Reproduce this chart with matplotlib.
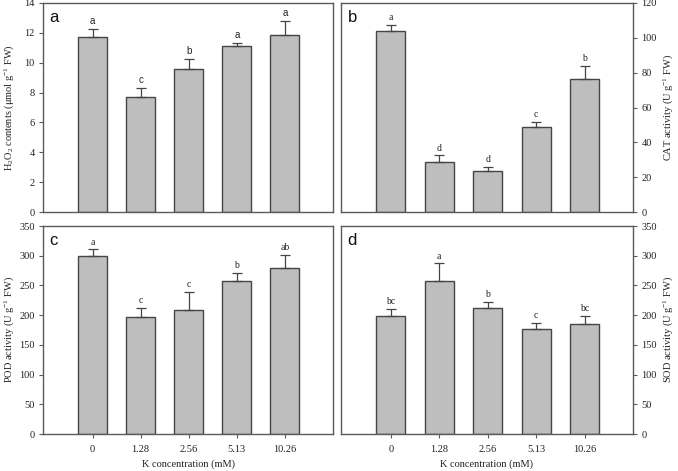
import matplotlib
matplotlib.use("Agg")
import matplotlib.pyplot as plt
import numpy as np

categories = ["0", "1.28", "2.56", "5.13", "10.26"]

h2o2 = [11.72, 7.72, 9.6, 11.12, 11.88]
h2o2_err = [0.54, 0.6, 0.65, 0.22, 0.92]
h2o2_sig = ["a", "c", "b", "a", "a"]

cat = [103.8, 28.8, 23.3, 48.6, 76.2]
cat_err = [3.5, 3.7, 2.8, 3.2, 7.5]
cat_sig = ["a", "d", "d", "c", "b"]

pod = [299.4, 197.2, 208.4, 257.0, 279.3]
pod_err = [11.2, 14.5, 31.3, 14.0, 21.7]
pod_sig = ["a", "c", "c", "b", "ab"]

sod = [198.9, 258.0, 211.2, 176.5, 185.5]
sod_err = [11.7, 29.0, 11.1, 10.5, 13.4]
sod_sig = ["bc", "a", "b", "c", "bc"]

serif = "Liberation Serif"
sans = "Liberation Sans"
plt.rcParams["font.family"] = serif
plt.rcParams["mathtext.fontset"] = "custom"
plt.rcParams["mathtext.rm"] = serif
plt.rcParams["mathtext.it"] = serif + ":italic"
plt.rcParams["mathtext.bf"] = serif + ":bold"

fig = plt.figure(figsize=(6.78, 4.71), dpi=100)
W, H = 678, 471

def add_ax(x0, x1, y0, y1):
    return fig.add_axes([x0 / W, 1 - y1 / H, (x1 - x0) / W, (y1 - y0) / H])

ax_a = add_ax(43, 333, 3, 212)
ax_b = add_ax(341, 633, 3, 212)
ax_c = add_ax(43, 333, 226, 434)
ax_d = add_ax(341, 633, 226, 434)

spine_col = "#5a5a5a"
bar_face = "#bebebe"
bar_edge = "#454545"
txt_col = "#222222"

def draw(ax, vals, errs, sigs, ymax, ystep, letter, ylabel, right, bottom, sig_font):
    x = np.arange(len(categories))
    ax.bar(x, vals, width=0.6, color=bar_face, edgecolor=bar_edge, linewidth=1.0, zorder=2)
    ax.errorbar(x, vals, yerr=[np.zeros(len(vals)), errs], fmt="none",
                ecolor=bar_edge, elinewidth=0.9, capsize=3.5, capthick=0.9, zorder=3)
    for xi, v, e, s in zip(x, vals, errs, sigs):
        ax.annotate(s, (xi, v + e), xytext=(0, 2), textcoords="offset points",
                    ha="center", va="bottom", fontsize=7, family=sig_font, color=txt_col)
    ax.set_xlim(-1.03, 5.0)
    ax.set_ylim(0, ymax)
    ax.set_yticks(np.arange(0, ymax + 0.001, ystep))
    for sp in ax.spines.values():
        sp.set_color(spine_col)
        sp.set_linewidth(1.0)
    ax.tick_params(axis="y", direction="out", length=3, width=0.8, color=spine_col,
                   labelsize=7.5, labelcolor=txt_col, pad=3)
    ax.set_ylabel(ylabel, fontsize=7.5, color=txt_col)
    if right:
        ax.yaxis.tick_right()
        ax.yaxis.set_label_position("right")
        ax.tick_params(axis="y", right=True, left=False, labelright=True, labelleft=False)
        ax.yaxis.set_label_coords((661 - 341) / 292, 0.5)
    else:
        ax.yaxis.set_label_coords((16 - 43) / 290, 0.5)
    if bottom:
        ax.set_xticks(x)
        ax.set_xticklabels(categories)
        ax.tick_params(axis="x", direction="out", length=3, width=0.8, color=spine_col,
                       labelsize=7.5, labelcolor=txt_col, pad=5)
        ax.set_xlabel("K concentration (mM)", fontsize=7.5, color=txt_col, labelpad=4)
    else:
        ax.set_xticks([])
    ax.text(0.022, 0.965, letter, transform=ax.transAxes, ha="left", va="top",
            fontsize=12, family=sans, color="#111111")

draw(ax_a, h2o2, h2o2_err, h2o2_sig, 14, 2, "a",
     "H$_2$O$_2$ contents (μmol g$^{-1}$ FW)", False, False, sans)
draw(ax_b, cat, cat_err, cat_sig, 120, 20, "b",
     "CAT activity (U g$^{-1}$ FW)", True, False, serif)
draw(ax_c, pod, pod_err, pod_sig, 350, 50, "c",
     "POD activity (U g$^{-1}$ FW)", False, True, serif)
draw(ax_d, sod, sod_err, sod_sig, 350, 50, "d",
     "SOD activity (U g$^{-1}$ FW)", True, True, serif)

fig.savefig("out.png", dpi=100)
